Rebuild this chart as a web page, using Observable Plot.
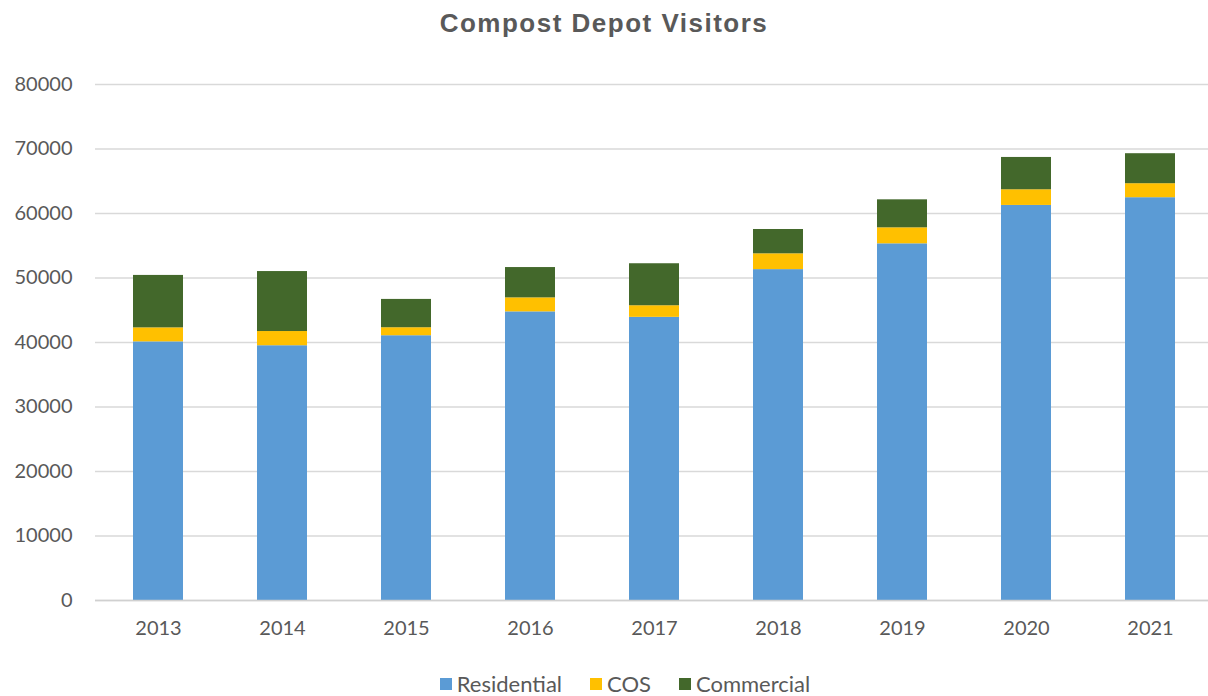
<!DOCTYPE html>
<html>
<head>
<meta charset="utf-8">
<script src="https://cdn.jsdelivr.net/npm/d3@7"></script>
<script src="https://cdn.jsdelivr.net/npm/@observablehq/plot@0.6"></script>
<style>
  html, body { margin: 0; padding: 0; background: #fff; }
  body { width: 1208px; height: 696px; overflow: hidden; }
  #title { height: 50px; line-height: 46px; text-align: center; font-family: "Liberation Sans", Arial, sans-serif; font-weight: bold; font-size: 26px; letter-spacing: 1.5px; color: #595959; }
  #chart svg { display: block; overflow: hidden; }
  #legend { display: flex; justify-content: center; align-items: center; gap: 28px; font-family: Lato, "Open Sans", sans-serif; font-size: 22px; color: #595959; margin-top: 10px; padding-left: 42px; }
  #legend .item { display: flex; align-items: center; gap: 5px; }
  #legend .sw { width: 12px; height: 12px; display: inline-block; }
</style>
</head>
<body>
<div id="title">Compost Depot Visitors</div>
<div id="chart"></div>
<div id="legend"></div>
<script>
const years = ["2013","2014","2015","2016","2017","2018","2019","2020","2021"];
const seriesNames = ["Residential","COS","Commercial"];
const residential = [40100, 39500, 41050, 44750, 43900, 51300, 55300, 61250, 62450];
const cos =         [2170, 2200, 1240, 2170, 1800, 2450, 2480, 2430, 2170];
const commercial =  [8130, 9300, 4390, 4700, 6510, 3770, 4340, 5010, 4650];
const colors = ["#5b9bd5", "#ffc000", "#43682b"];
const yTicks = [0, 10000, 20000, 30000, 40000, 50000, 60000, 70000, 80000];

const seriesValues = [residential, cos, commercial];
const data = [];
seriesNames.forEach((s, si) => {
  years.forEach((y, i) => data.push({year: y, series: s, value: seriesValues[si][i]}));
});

const plot = Plot.plot({
  width: 1208,
  height: 610,
  marginLeft: 95,
  marginRight: -5,
  marginTop: 34,
  marginBottom: 60,
  style: {fontFamily: "Lato, 'Open Sans', sans-serif", fontSize: "20px", color: "#595959", background: "#fff"},
  x: {domain: years, paddingInner: 0.6, paddingOuter: 0.3, label: null, tickSize: 0, tickPadding: 20},
  y: {domain: [0, 80000], ticks: yTicks, label: null, tickSize: 0, tickPadding: 23, tickFormat: d => String(d)},
  color: {domain: seriesNames, range: colors},
  marks: [
    Plot.gridY(yTicks, {stroke: "#d9d9d9", strokeOpacity: 1, strokeWidth: 1.3}),
    Plot.barY(data, Plot.stackY({x: "year", y: "value", fill: "series", order: seriesNames})),
    Plot.ruleY([0], {stroke: "#d0d0d0", strokeWidth: 1.3})
  ]
});
document.getElementById("chart").appendChild(plot);

const legend = document.getElementById("legend");
seriesNames.forEach((s, i) => {
  const item = document.createElement("span");
  item.className = "item";
  const sw = document.createElement("span");
  sw.className = "sw";
  sw.style.background = colors[i];
  const t = document.createElement("span");
  t.textContent = s;
  item.appendChild(sw);
  item.appendChild(t);
  legend.appendChild(item);
});
</script>
</body>
</html>
